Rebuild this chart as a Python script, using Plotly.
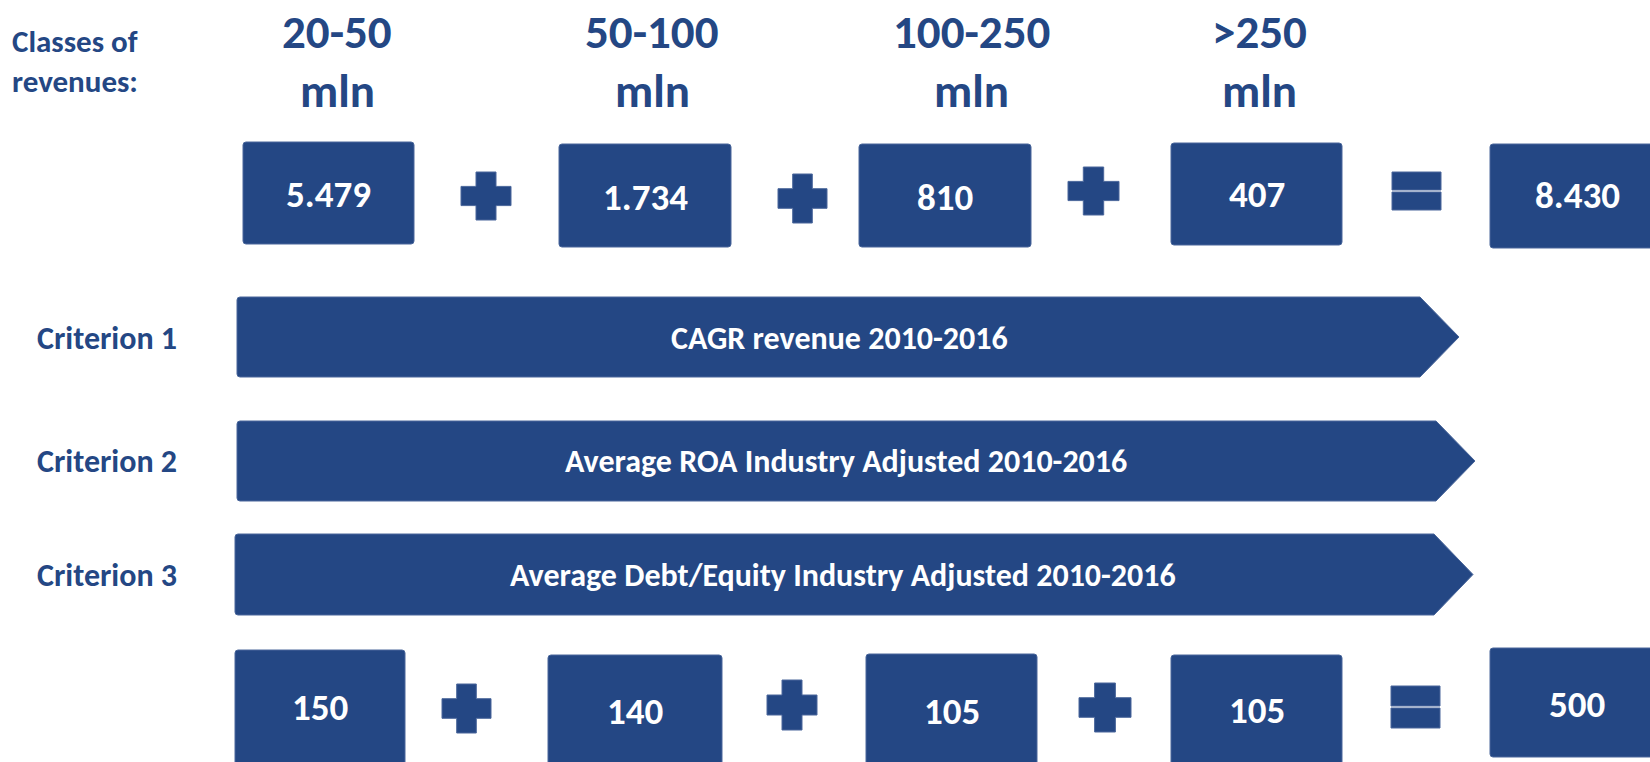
import plotly.graph_objects as go

# ---------------- data ----------------
class_ranges = ["20-50", "50-100", "100-250", ">250"]
class_unit = "mln"
firms_per_class = [5479, 1734, 810, 407]
firms_total = 8430
selected_per_class = [150, 140, 105, 105]
selected_total = 500
criteria = ["Criterion 1", "Criterion 2", "Criterion 3"]
criteria_desc = ["CAGR revenue 2010-2016",
                 "Average ROA Industry Adjusted 2010-2016",
                 "Average Debt/Equity Industry Adjusted 2010-2016"]
header_label = "Classes of<br>revenues:"

# ---------------- layout geometry (pixels) ----------------
W, H = 1650, 762
BLUE = "#244784"
EDGE = "#4a679b"
FONT = "Carlito, Lato, 'Open Sans', sans-serif"

class_x = [337, 652, 971, 1259]
top_boxes = [(243, 414, 142, 244), (559, 731, 144, 247), (859, 1031, 144, 247), (1171, 1342, 143, 245)]
top_text_y = [194, 197, 197, 194]
top_total_box = (1490, 1665, 144, 248)
top_total_y = 195
total_text_x = 1577
top_plus = [(461, 511, 172, 220), (778, 827, 174, 223), (1068, 1119, 167, 215)]
top_eq = (1392, 1441, 172, 210)

bot_boxes = [(235, 405, 650, 768), (548, 722, 655, 768), (866, 1037, 654, 768), (1171, 1342, 655, 768)]
bot_text_y = [707, 711, 711, 710]
bot_total_box = (1490, 1665, 648, 757)
bot_total_y = 704
bot_plus = [(442, 491, 684, 733), (767, 817, 680, 730), (1079, 1131, 683, 732)]
bot_eq = (1391, 1440, 686, 728)

arrows = [(237, 1420, 1459, 297, 377), (237, 1436, 1475, 421, 501), (235, 1434, 1473, 534, 615)]
arrow_text_x = [839, 846, 843]
crit_label_y = [338, 461, 575]


def fmt(v):
    return f"{v:,}".replace(",", ".")


def rrect(x0, x1, y0, y1, r=3):
    return (f"M {x0+r},{y0} L {x1-r},{y0} Q {x1},{y0} {x1},{y0+r} "
            f"L {x1},{y1-r} Q {x1},{y1} {x1-r},{y1} L {x0+r},{y1} "
            f"Q {x0},{y1} {x0},{y1-r} L {x0},{y0+r} Q {x0},{y0} {x0+r},{y0} Z")


shapes = []


def add_path(p, edge=True):
    shapes.append(dict(type="path", path=p, xref="x", yref="y", fillcolor=BLUE,
                       line=dict(color=EDGE if edge else BLUE, width=1 if edge else 0), layer="above"))


def plus(x0, x1, y0, y1):
    cx, cy = (x0 + x1) / 2, (y0 + y1) / 2
    a = (x1 - x0) * 0.2
    b = (y1 - y0) * 0.2
    pts = [(cx - a, y0), (cx + a, y0), (cx + a, cy - b), (x1, cy - b), (x1, cy + b), (cx + a, cy + b),
           (cx + a, y1), (cx - a, y1), (cx - a, cy + b), (x0, cy + b), (x0, cy - b), (cx - a, cy - b)]
    add_path("M " + " L ".join(f"{x},{y}" for x, y in pts) + " Z")


def equals(x0, x1, y0, y1):
    m = (y0 + y1) / 2
    add_path(f"M {x0},{y0} L {x1},{y0} L {x1},{m-1} L {x0},{m-1} Z")
    add_path(f"M {x0},{m+1} L {x1},{m+1} L {x1},{y1} L {x0},{y1} Z")


for b in top_boxes + [top_total_box] + bot_boxes + [bot_total_box]:
    add_path(rrect(*b))
for p in top_plus + bot_plus:
    plus(*p)
equals(*top_eq)
equals(*bot_eq)
for (x0, xs, xt, y0, y1) in arrows:
    cy = (y0 + y1) / 2
    add_path(f"M {x0+3},{y0} L {xs},{y0} L {xt},{cy} L {xs},{y1} L {x0+3},{y1} "
             f"Q {x0},{y1} {x0},{y1-3} L {x0},{y0+3} Q {x0},{y0} {x0+3},{y0} Z")

ann = []


def text(x, y, t, size, color=BLUE, xanchor="center"):
    ann.append(dict(x=x, y=y, xref="x", yref="y", text=f"<b>{t}</b>", showarrow=False,
                    xanchor=xanchor, yanchor="middle",
                    font=dict(family=FONT, size=size, color=color)))


# header
ann.append(dict(x=10, y=61, xref="x", yref="y", text=f"<b>{header_label}</b>", showarrow=False,
                xanchor="left", yanchor="middle", align="left",
                font=dict(family=FONT, size=31, color=BLUE)))
for cx, r in zip(class_x, class_ranges):
    text(cx, 32, r, 47)
    text(cx, 91, class_unit, 47)

for b, v, ty in zip(top_boxes, firms_per_class, top_text_y):
    text((b[0] + b[1]) / 2, ty, fmt(v), 37, "white")
text(total_text_x, top_total_y, fmt(firms_total), 37, "white")

for b, v, ty in zip(bot_boxes, selected_per_class, bot_text_y):
    text((b[0] + b[1]) / 2, ty, fmt(v), 37, "white")
text(total_text_x, bot_total_y, fmt(selected_total), 37, "white")

for c, d, tx, ly in zip(criteria, criteria_desc, arrow_text_x, crit_label_y):
    text(35, ly, c, 32, xanchor="left")
    text(tx, ly, d, 32, "white")

fig = go.Figure(go.Scatter(x=[0, W], y=[0, H], mode="markers", marker=dict(opacity=0), hoverinfo="skip"))
fig.update_layout(width=W, height=H, margin=dict(l=0, r=0, t=0, b=0),
                  paper_bgcolor="white", plot_bgcolor="white", showlegend=False,
                  shapes=shapes, annotations=ann)
fig.update_xaxes(range=[0, W], visible=False, fixedrange=True)
fig.update_yaxes(range=[H, 0], visible=False, fixedrange=True)
fig.write_html("out.html", config={"displayModeBar": False},
               post_script="document.body.style.margin='0';document.body.style.overflow='hidden';")
